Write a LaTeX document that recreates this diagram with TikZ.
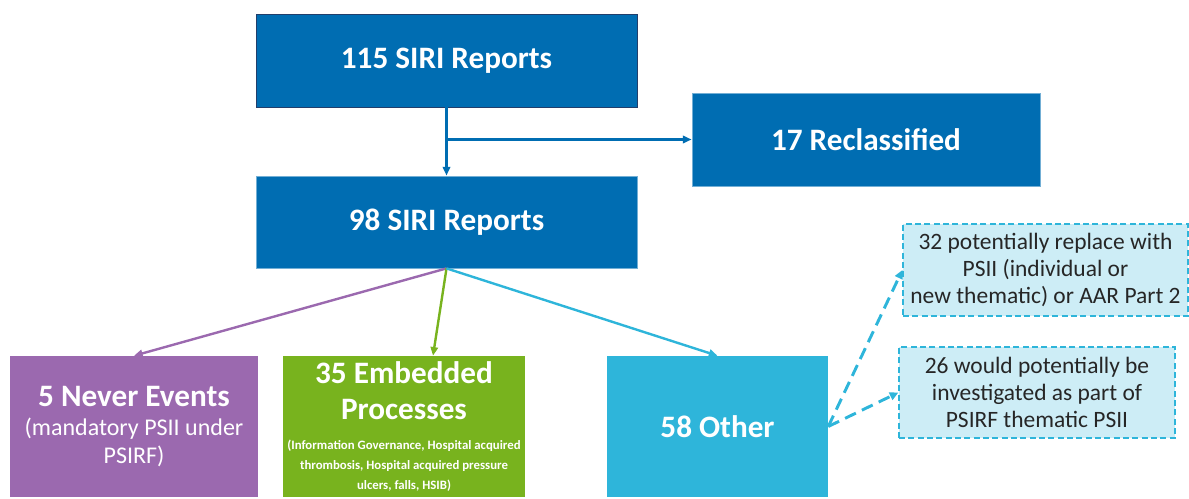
\documentclass[tikz,border=0pt]{standalone}
\usepackage{fontspec}
\setmainfont{Carlito}
\usepackage{xcolor}
\usetikzlibrary{arrows.meta,positioning}
\definecolor{repblue}{HTML}{006DB2}
\definecolor{repedge}{HTML}{223E6B}
\definecolor{nevpurple}{HTML}{9B69AF}
\definecolor{embgreen}{HTML}{78B31E}
\definecolor{othcyan}{HTML}{2EB5DA}
\definecolor{notefill}{HTML}{CDEDF6}
\tikzset{
  repbox/.style={fill=repblue, draw=repblue!55!white, line width=0.6pt, text=white,
    align=center, inner sep=2pt, minimum height=69.75pt,
    font=\fontsize{23.4}{27}\selectfont\bfseries},
  catbox/.style={text=white, align=center, inner sep=2pt, minimum height=105.75pt,
    font=\fontsize{18}{21}\selectfont},
  notebox/.style={draw=othcyan, fill=notefill, dash pattern=on 4.5pt off 2.5pt,
    line width=0.9pt, align=center, inner sep=2pt, text=black!85,
    font=\fontsize{17.6}{20.5}\selectfont},
  arr/.style={-{Triangle[length=6.5pt,width=5.5pt]}, line width=1.8pt, draw=repblue},
  dasharr/.style={-{Triangle[length=6.5pt,width=6pt]}, line width=2.2pt, draw=othcyan,
    dash pattern=on 9pt off 5pt},
}
\newcommand{\catttl}[1]{{\fontsize{23.4}{27}\selectfont\bfseries #1}}
\newcommand{\catnote}[1]{{\fontsize{9.6}{14}\selectfont\bfseries #1}}

\begin{document}
\begin{tikzpicture}[x=0.75pt, y=-0.75pt]
\useasboundingbox (0,0) rectangle (1189,499);

% report boxes
\node[repbox, draw=repedge, minimum width=285.75pt] (top) at (446.5,60.5) {115 SIRI Reports};
\node[repbox, minimum width=285.75pt, minimum height=69pt] (mid) at (446.5,222) {98 SIRI Reports};
\node[repbox, minimum width=261pt] (recl) at (866,139.5) {17 Reclassified};

% categories
\node[catbox, fill=nevpurple, minimum width=186pt] (never) at (134,426.5)
  {\catttl{5 Never Events}\\[1pt](mandatory PSII under\\PSIRF)};
\node[catbox, fill=embgreen, minimum width=181.5pt] (embed) at (404,426.5)
  {\catttl{35 Embedded}\\[6pt]\catttl{Processes}\\[1.5pt]
   \catnote{(Information Governance, Hospital acquired}\\[-6pt]
   \catnote{thrombosis, Hospital acquired pressure}\\[-6pt]
   \catnote{ulcers, falls, HSIB)}};
\node[catbox, fill=othcyan, minimum width=165.75pt] (other) at (717.5,426.5) {\catttl{58 Other}};

% notes
\node[notebox, minimum width=213.75pt, minimum height=69pt] (psii) at (1045.5,270)
  {32 potentially replace with\\PSII (individual or\\new thematic) or AAR Part 2};
\node[notebox, minimum width=207pt, minimum height=68.25pt] (them) at (1037,392.5)
  {26 would potentially be\\investigated as part of\\PSIRF thematic PSII};

% connectors
\coordinate (split) at (top.south |- recl.west);
\draw[arr] (top.south) -- (mid.north);
\draw[arr] (split) -- (recl.west);
\draw[arr, draw=nevpurple] (mid.south) -- (never.north);
\draw[arr, draw=embgreen] (mid.south) -- ([xshift=21.75pt]embed.north);
\draw[arr, draw=othcyan] (mid.south) -- (other.north);
\draw[dasharr] (other.east) -- (psii.west);
\draw[dasharr] (other.east) -- (them.west);
\end{tikzpicture}
\end{document}
